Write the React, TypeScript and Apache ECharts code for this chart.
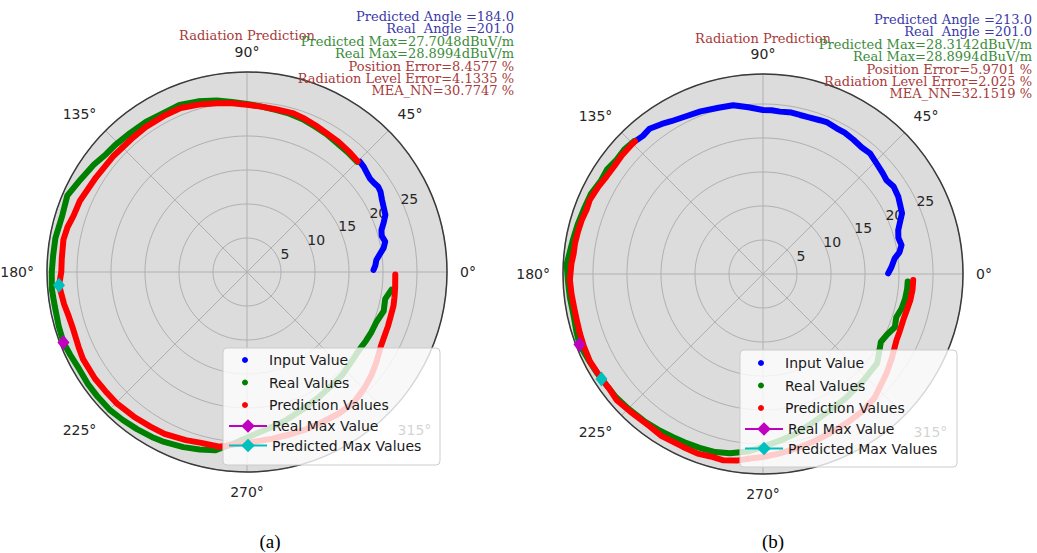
import React, { useEffect, useRef } from 'react';
import * as echarts from 'echarts';

// ---------- data: [angle (deg), level (dBuV/m)] ----------
const inputA: [number, number][] = [
  [0.9, 18.6], [3, 18.9], [5.3, 19.1], [8, 19.8], [10, 20.4], [12.4, 20.8], [15, 20.5], [17.3, 20.7],
  [20, 21.4], [22.4, 22.0], [25, 22.2], [28.1, 22.5], [31, 22.9], [33, 23.0], [35, 22.8], [37.3, 22.7],
  [40, 22.9], [42, 23.1], [44.3, 23.2],
];
const realA: [number, number][] = [
  [45, 22.9], [50, 23.0], [55, 23.1], [60, 23.4], [65, 23.6], [70, 23.9], [75, 24.1], [80, 24.2],
  [85, 24.4], [90, 24.7], [95, 25.1], [100, 25.6], [106, 26.1], [112, 26.5], [118, 26.4], [124, 26.6],
  [130, 26.7], [136, 26.9], [140, 27.0], [145, 27.5], [151, 28.0], [157, 28.7], [163, 28.4], [170, 28.6],
  [175, 28.6], [180, 28.7], [185, 28.8], [190, 28.7], [196, 28.8], [201, 28.9], [205, 28.7], [210, 28.5],
  [215, 28.6], [220, 28.6], [225, 28.6], [230, 28.4], [235, 28.2], [240, 28.0], [244, 27.8], [250, 27.4],
  [255, 27.0], [260, 26.6], [266, 25.2], [272, 24.0], [278, 23.2], [285, 22.5], [292, 21.8], [300, 21.2],
  [307, 20.8], [313, 20.6], [318, 20.3], [323, 20.1], [327, 20.1], [330, 20.2], [334, 20.3], [339, 20.4],
  [344, 20.9], [349, 20.7], [353, 21.4],
];
const predA: [number, number][] = [
  [45, 23.0], [50, 23.2], [55, 23.4], [60, 23.5], [65, 23.8], [70, 24.1], [74, 24.3], [80, 24.3],
  [85, 24.4], [90, 24.6], [95, 24.9], [100, 25.2], [106, 25.6], [112, 26.0], [118, 26.0], [125, 26.0],
  [131, 25.9], [139, 26.0], [148, 26.2], [157, 26.7], [162, 26.8], [166, 27.2], [170, 27.4], [176, 27.3],
  [180, 27.3], [184, 27.7], [190, 27.3], [194, 27.0], [198, 26.9], [204, 27.1], [208, 27.3], [215, 27.3],
  [220, 27.2], [225, 27.2], [232, 27.0], [238, 26.8], [243, 26.7], [250, 26.3], [255, 26.0], [261, 26.0],
  [266, 25.4], [272, 25.0], [278, 24.8], [284, 24.7], [290, 24.7], [296, 24.7], [303, 24.8], [309, 24.8],
  [315, 24.3], [320, 23.8], [325, 23.2], [331, 22.5], [335, 22.3], [339, 22.2], [343, 22.1], [347, 22.1],
  [350, 22.0], [354, 21.9], [359, 21.8],
];
const realMaxA: [number, number][] = [[201, 28.8994]];
const predMaxA: [number, number][] = [[184, 27.7048]];

const inputB: [number, number][] = [
  [0.3, 18.4], [3, 18.9], [6.8, 19.5], [9, 20.3], [11.8, 20.8], [15, 20.6], [18, 20.9], [21, 21.6],
  [23.6, 22.3], [27, 22.6], [29.7, 22.9], [33.8, 23.1], [37.2, 22.8], [40, 23.0], [44.2, 23.3], [48.4, 23.7],
  [52, 23.6], [56, 23.8], [60, 24.0], [63.2, 24.0], [67, 24.2], [69.7, 24.1], [74, 24.0], [76.9, 24.0],
  [80, 24.1], [84, 24.0], [87, 24.1], [90, 24.1], [95, 24.6], [100, 25.2], [105, 25.3], [111, 25.6],
  [116, 25.8], [121, 26.2], [124, 26.6], [128, 27.1], [131, 26.9], [134, 27.1],
];
const realB: [number, number][] = [
  [134, 27.2], [138, 27.4], [142, 27.3], [146, 27.6], [150, 27.5], [155, 27.9], [160, 28.0], [165, 28.2],
  [170, 28.4], [175, 28.7], [177, 28.9], [182, 28.7], [187, 28.6], [192, 28.5], [197, 28.7], [201, 28.9],
  [206, 28.6], [211, 28.4], [216, 28.2], [220, 28.2], [225, 28.0], [231, 27.8], [236, 27.6], [241, 27.4],
  [245, 27.3], [250, 27.2], [255, 27.1], [259.6, 26.8], [265, 26.2], [270, 25.4], [276, 24.6], [282, 23.9],
  [289, 23.0], [296.2, 22.3], [304, 21.9], [313.4, 21.5], [321.9, 21.3], [326, 20.6], [330, 20.0], [334, 20.3],
  [338, 20.9], [342, 20.6], [346, 21.0], [350, 21.2], [354, 21.3], [357, 21.3],
];
const predB: [number, number][] = [
  [134, 27.1], [136, 27.1], [140, 27.1], [144, 27.0], [148, 27.1], [152, 27.4], [156.8, 27.7], [160, 27.6],
  [163.4, 27.8], [167, 27.9], [170.7, 28.0], [174, 28.0], [176.8, 28.2], [181.8, 28.4], [186, 28.3], [190, 28.2],
  [193.9, 28.2], [198, 28.3], [202, 28.4], [207, 28.5], [213, 28.3], [217, 28.2], [220.7, 28.4], [226, 28.1],
  [233.5, 27.9], [238, 28.1], [245.2, 28.0], [250, 28.1], [254, 27.9], [258, 28.0], [262, 27.7], [266, 27.2],
  [270, 26.9], [275, 26.5], [281, 26.1], [287, 25.7], [292.8, 25.4], [300, 25.1], [306.4, 24.9], [312, 24.5],
  [316, 23.9], [321.2, 23.3], [327, 22.6], [333.7, 21.9], [337, 21.8], [341.9, 21.7], [346, 21.8], [350, 22.0],
  [354, 22.1], [357.7, 22.1],
];
const realMaxB: [number, number][] = [[201, 28.8994]];
const predMaxB: [number, number][] = [[213, 28.3142]];

const infoA = [
  'Predicted Angle =184.0', 'Real  Angle =201.0', 'Predicted Max=27.7048dBuV/m', 'Real Max=28.8994dBuV/m',
  'Position Error=8.4577 %', 'Radiation Level Error=4.1335 %', 'MEA_NN=30.7747 %',
];
const infoB = [
  'Predicted Angle =213.0', 'Real  Angle =201.0', 'Predicted Max=28.3142dBuV/m', 'Real Max=28.8994dBuV/m',
  'Position Error=5.9701 %', 'Radiation Level Error=2.025 %', 'MEA_NN=32.1519 %',
];
const infoColors = ['#3a3aa8', '#3a3aa8', '#3a8c3a', '#3a8c3a', '#a83a3a', '#a83a3a', '#a83a3a'];

const R_MAX = 29.4;
const ANGLE_STEP = 45;
const R_STEP = 5;

const C_BLUE = '#0000ff';
const C_GREEN = '#008000';
const C_RED = '#ff0000';
const C_MAG = '#bf00bf';
const C_CYAN = '#00bfbf';

const toPolar = (arr: [number, number][]) => arr.map(([a, v]) => [v, a]);

export default function App() {
  const ref = useRef<HTMLDivElement>(null);
  useEffect(() => {
    if (!ref.current) return;
    const chart = echarts.init(ref.current, undefined, { renderer: 'svg' });
    const labelFont = 'DejaVu Sans';
    const serif = 'DejaVu Serif';

    const plots = [
      { cx: 247, cy: 272, input: inputA, real: realA, pred: predA, rmax: realMaxA, pmax: predMaxA, info: infoA, right: 514, dy: 0, box: [223, 348, 217, 117], legLeft: 228, legTop: 353 },
      { cx: 763, cy: 274, input: inputB, real: realB, pred: predB, rmax: realMaxB, pmax: predMaxB, info: infoB, right: 1032, dy: 3, box: [740, 350, 217, 117], legLeft: 744, legTop: 356 },
    ];

    const polar: any[] = [];
    const angleAxis: any[] = [];
    const radiusAxis: any[] = [];
    const series: any[] = [];
    const legend: any[] = [];
    const graphic: any[] = [];

    plots.forEach((p, i) => {
      const dataIdx = i * 3;
      const lblIdx = i * 3 + 1;
      const bgIdx = i * 3 + 2;
      polar.push({ center: [p.cx, p.cy], radius: 200 });
      polar.push({ center: [p.cx + 7, p.cy - 4], radius: 200 });
      polar.push({ center: [p.cx, p.cy], radius: 200 });

      // main axes (grid lines, outer circle, angle labels)
      angleAxis.push({
        polarIndex: dataIdx,
        type: 'value', min: 0, max: 360, interval: ANGLE_STEP, startAngle: 0, clockwise: false,
        axisLine: { show: true, lineStyle: { color: '#3a3a3a', width: 1.5 } },
        axisTick: { show: false },
        axisLabel: {
          margin: 13, color: '#262626', fontSize: 14, fontFamily: labelFont,
          formatter: (v: number) => (v >= 360 ? '' : `${v}°`),
        },
        splitLine: { show: true, lineStyle: { color: '#b0b0b0', width: 1 } },
        splitArea: { show: false },
        z: 1,
      });
      // radius tick labels at ~24°
      angleAxis.push({
        polarIndex: lblIdx,
        type: 'value', min: 0, max: 360, startAngle: 24, clockwise: false, show: false,
      });
      // background fill
      angleAxis.push({
        polarIndex: bgIdx,
        type: 'value', min: 0, max: 360, interval: 90, startAngle: 0, clockwise: false, show: true,
        axisLine: { show: false }, axisTick: { show: false }, axisLabel: { show: false }, splitLine: { show: false },
        splitArea: { show: true, areaStyle: { color: ['#dcdcdc', '#dcdcdc'] } },
        z: 0,
      });

      radiusAxis.push({
        polarIndex: dataIdx,
        type: 'value', min: 0, max: R_MAX, interval: R_STEP,
        axisLine: { show: false }, axisTick: { show: false }, axisLabel: { show: false },
        splitLine: { show: true, lineStyle: { color: '#b0b0b0', width: 1 } },
        splitArea: { show: false },
        z: 1,
      });
      radiusAxis.push({
        polarIndex: lblIdx,
        type: 'value', min: 0, max: R_MAX, interval: R_STEP,
        axisLine: { show: false }, axisTick: { show: false }, splitLine: { show: false },
        axisLabel: {
          show: true, margin: 0, showMinLabel: false, showMaxLabel: false,
          color: '#262626', fontSize: 14, fontFamily: labelFont, align: 'center', verticalAlign: 'middle',
        },
        z: 1,
      });
      radiusAxis.push({
        polarIndex: bgIdx,
        type: 'value', min: 0, max: R_MAX, show: false,
      });

      const lineBase = {
        type: 'line', coordinateSystem: 'polar', polarIndex: dataIdx, symbol: 'none',
        silent: true, animation: false, z: 2,
      };
      series.push({ ...lineBase, name: 'Input Value', data: toPolar(p.input), color: C_BLUE, lineStyle: { width: 6, color: C_BLUE, cap: 'round', join: 'round' } });
      series.push({ ...lineBase, name: 'Real Values', data: toPolar(p.real), color: C_GREEN, lineStyle: { width: 6, color: C_GREEN, cap: 'round', join: 'round' } });
      series.push({ ...lineBase, name: 'Prediction Values', data: toPolar(p.pred), color: C_RED, lineStyle: { width: 6, color: C_RED, cap: 'round', join: 'round' } });
      series.push({
        type: 'line', coordinateSystem: 'polar', polarIndex: dataIdx, name: 'Real Max Value',
        data: toPolar(p.rmax), symbol: 'diamond', symbolSize: [12, 15], color: C_MAG,
        itemStyle: { color: C_MAG }, lineStyle: { width: 2.5, color: C_MAG }, silent: true, z: 3,
      });
      series.push({
        type: 'line', coordinateSystem: 'polar', polarIndex: dataIdx, name: 'Predicted Max Values',
        data: toPolar(p.pmax), symbol: 'diamond', symbolSize: [12, 15], color: C_CYAN,
        itemStyle: { color: C_CYAN }, lineStyle: { width: 2.5, color: C_CYAN }, silent: true, z: 3,
      });

      const textStyle = { color: '#1a1a1a', fontSize: 14, fontFamily: labelFont };
      legend.push({
        orient: 'vertical', left: p.legLeft + 14, top: p.legTop, padding: 0, itemWidth: 38, itemHeight: 6, itemGap: 8.5,
        selectedMode: false, textStyle, z: 10,
        data: [
          { name: 'Input Value', icon: 'circle', itemStyle: { color: C_BLUE, borderWidth: 0 } },
          { name: 'Real Values', icon: 'circle', itemStyle: { color: C_GREEN, borderWidth: 0 } },
          { name: 'Prediction Values', icon: 'circle', itemStyle: { color: C_RED, borderWidth: 0 } },
        ],
      });
      legend.push({
        orient: 'vertical', left: p.legLeft, top: p.legTop + 66, padding: 0, itemWidth: 38, itemHeight: 17, itemGap: 5.5,
        selectedMode: false, textStyle, z: 10,
        data: ['Real Max Value', 'Predicted Max Values'],
      });

      graphic.push({
        type: 'rect', z: 5, silent: true,
        shape: { x: p.box[0], y: p.box[1], width: p.box[2], height: p.box[3], r: 4 },
        style: { fill: 'rgba(255,255,255,0.8)', stroke: '#cccccc', lineWidth: 1 },
      });
      graphic.push({
        type: 'text', z: 6, silent: true, x: p.cx, y: 35 + p.dy,
        style: { text: 'Radiation Prediction', fill: '#a83a3a', font: `13px "${serif}"`, textAlign: 'center', textVerticalAlign: 'middle' },
      });
      const ys = [16.5, 28.5, 41.5, 53.5, 66.5, 78, 90];
      p.info.forEach((t, k) => {
        graphic.push({
          type: 'text', z: 6, silent: true, x: p.right, y: ys[k] + p.dy,
          style: { text: t, fill: infoColors[k], font: `13px "${serif}"`, textAlign: 'right', textVerticalAlign: 'middle' },
        });
      });
    });

    graphic.push({ type: 'text', x: 270, y: 541, silent: true, style: { text: '(a)', fill: '#000', font: '19px "Liberation Serif"', textAlign: 'center', textVerticalAlign: 'middle' } });
    graphic.push({ type: 'text', x: 773, y: 541, silent: true, style: { text: '(b)', fill: '#000', font: '19px "Liberation Serif"', textAlign: 'center', textVerticalAlign: 'middle' } });

    chart.setOption({
      animation: false,
      backgroundColor: '#ffffff',
      polar, angleAxis, radiusAxis, series, legend, graphic,
    });
    return () => chart.dispose();
  }, []);

  return <div ref={ref} style={{ position: 'fixed', left: 0, top: 0, width: 1037, height: 553 }} />;
}
